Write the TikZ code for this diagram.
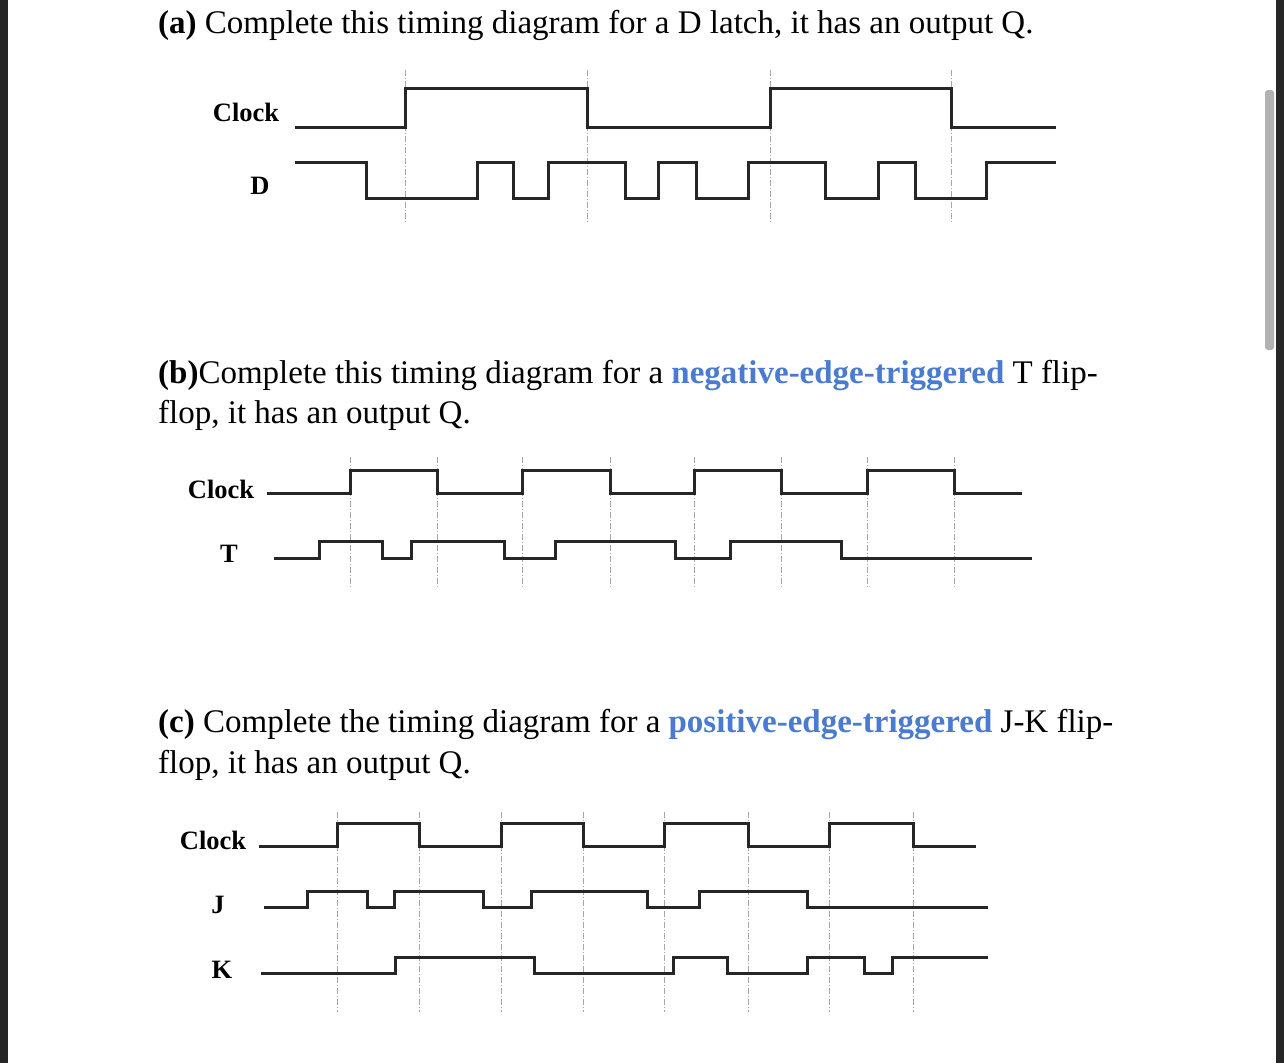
\documentclass[tikz,border=0pt]{standalone}
\usepackage{fontspec}
\setmainfont{Liberation Serif}
\begin{document}
\begin{tikzpicture}[x=1pt,y=-1pt,
  wave/.style={line width=3pt,line join=miter,black!85},
  guide/.style={gray!70,line width=0.6pt,dash pattern=on 6pt off 2pt on 1pt off 2pt},
  title/.style={anchor=base west,inner sep=0,font=\fontsize{33}{38}\selectfont},
  sig/.style={font=\bfseries\fontsize{26.5}{30}\selectfont,inner sep=0}]
\useasboundingbox (0,0) rectangle (1284,1063);
\fill[white] (0,0) rectangle (1284,1063);
\fill[black!85] (0,0) rectangle (8,1063);
\fill[black!85] (1276,0) rectangle (1284,1063);
\fill[gray!60,rounded corners=3pt] (1265,90) rectangle (1274,350);
\definecolor{hl}{HTML}{4A7BD0}
% (a)
\node[title] (ta) at (158,33) {\textbf{(a)} Complete this timing diagram for a D latch, it has an output Q.};
\node[sig] (ca) at (246,112) {Clock};
\node[sig] (da) at (260,186) {D};
\foreach \x in {405,587,770,951} \draw[guide] (\x,70) -- (\x,223);
\draw[wave] (295,127) -| (405,88) -| (587,127) -| (770,88) -| (951,127) -- (1056,127);
\draw[wave] (295,162) -| (366,198) -| (477,162) -| (513,198) -| (548,162) -| (625,198) -| (658,162) -| (696,198) -| (748,162) -| (825,198) -| (878,162) -| (915,198) -| (986,162) -- (1056,162);
% (b)
\node[title] (tb1) at (158,383) {\textbf{(b)}Complete this timing diagram for a \textbf{\color{hl}negative-edge-triggered} T flip-};
\node[title] (tb2) at (158,423) {flop, it has an output Q.};
\node[sig] (cb) at (221,489) {Clock};
\node[sig] (tb) at (229,554) {T};
\foreach \x in {350,437,522,610,694,781,867,954} \draw[guide] (\x,457) -- (\x,588);
\draw[wave] (267,493) -| (350,470) -| (437,493) -| (522,470) -| (610,493) -| (694,470) -| (781,493) -| (867,470) -| (954,493) -- (1022,493);
\draw[wave] (274,558) -| (319,541) -| (382,558) -| (411,541) -| (504,558) -| (555,541) -| (675,558) -| (730,541) -| (841,558) -- (1032,558);
% (c)
\node[title] (tc1) at (158,732) {\textbf{(c)} Complete the timing diagram for a \textbf{\color{hl}positive-edge-triggered} J-K flip-};
\node[title] (tc2) at (158,773) {flop, it has an output Q.};
\node[sig] (cc) at (213,840) {Clock};
\node[sig] (jc) at (218,905) {J};
\node[sig] (kc) at (222,970) {K};
\foreach \x in {337,419,501,583,664,748,829,913} \draw[guide] (\x,812) -- (\x,1012);
\draw[wave] (259,846) -| (337,823) -| (419,846) -| (501,823) -| (583,846) -| (664,823) -| (748,846) -| (829,823) -| (913,846) -- (976,846);
\draw[wave] (264,907) -| (307,891) -| (367,907) -| (394,891) -| (483,907) -| (531,891) -| (647,907) -| (699,891) -| (807,907) -- (988,907);
\draw[wave] (261,973) -| (395,957) -| (534,973) -| (673,957) -| (727,973) -| (807,957) -| (864,973) -| (892,957) -- (988,957);
\end{tikzpicture}
\end{document}
